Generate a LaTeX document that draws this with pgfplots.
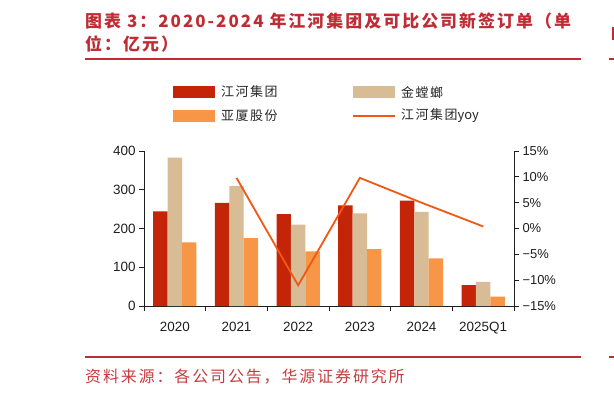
\documentclass[border=0pt]{standalone}
\usepackage{pgfplots}
\pgfplotsset{compat=1.18}
\usepackage{fontspec}
\setmainfont{Liberation Sans}
\newfontfamily\cjk{Noto Sans CJK SC}[LetterSpace=12]
\newfontfamily\cjkn{Noto Sans CJK SC}
\newfontfamily\cjkt{Noto Sans CJK SC}[LetterSpace=12]
\newfontfamily\cjks{Noto Sans CJK SC}[LetterSpace=12]
\definecolor{titlered}{RGB}{192,44,52}
\definecolor{jh}{RGB}{196,36,8}
\definecolor{jtl}{RGB}{216,188,150}
\definecolor{yx}{RGB}{247,150,70}
\definecolor{yoy}{RGB}{240,88,20}
\definecolor{srcred}{RGB}{196,60,60}
\definecolor{axgray}{RGB}{30,30,30}
\begin{document}
\begin{tikzpicture}[x=1bp,y=1bp]
\path[use as bounding box] (0,0) rectangle (614,-396);
% title
\node[anchor=base west, inner sep=0, text=titlered, font=\fontsize{17}{20}\selectfont\cjkt\bfseries] at (85,-27) {图表 3：2020-2024 年江河集团及可比公司新签订单（单};
\node[anchor=base west, inner sep=0, text=titlered, font=\fontsize{17}{20}\selectfont\cjkt\bfseries] at (85,-50) {位：亿元）};
\draw[titlered, line width=1.5bp] (85,-59) -- (581,-59);
\draw[titlered, line width=1.5bp] (609,-59) -- (614,-59);
\fill[titlered] (612,-27) rectangle (614,-40);
% legend
\fill[jh] (173,-86) rectangle (215,-98);
\node[anchor=west, inner sep=0, font=\fontsize{13}{15}\selectfont\cjk, text=black!85] at (221,-92) {江河集团};
\fill[yx] (173,-110) rectangle (215,-122);
\node[anchor=west, inner sep=0, font=\fontsize{13}{15}\selectfont\cjk, text=black!85] at (221,-116) {亚厦股份};
\fill[jtl] (353,-86) rectangle (395,-98);
\node[anchor=west, inner sep=0, font=\fontsize{13}{15}\selectfont\cjk, text=black!85] at (401,-92) {金螳螂};
\draw[yoy, line width=1.6bp] (353,-116) -- (395,-116);
\node[anchor=west, inner sep=0, font=\fontsize{13}{15}\selectfont\cjk, text=black!85] at (401,-116) {江河集团{\cjkn yoy}};
% left axis with bars
\begin{axis}[
  at={(144bp,-306bp)}, anchor=south west, scale only axis,
  width=370bp, height=155bp,
  xmin=-0.5, xmax=5.5, ymin=0, ymax=400,
  axis x line*=bottom, axis y line*=left,
  axis line style={axgray, line width=1bp},
  tick style={axgray, line width=1bp},
  tick align=outside, major tick length=5bp,
  ytick={0,100,200,300,400},
  xtick={-0.5,0.5,1.5,2.5,3.5,4.5,5.5},
  xticklabels={,,,,,,},
  extra x ticks={0,1,2,3,4,5},
  extra x tick labels={2020,2021,2022,2023,2024,2025Q1},
  extra x tick style={major tick length=0pt, xticklabel style={yshift=-13bp}},
  tick label style={font=\fontsize{13.5}{15}\selectfont, text=axgray},
  /pgf/number format/assume math mode=true,
  ybar=0pt, bar width=14.4bp,
]
\addplot[draw=none, fill=jh] coordinates {(0,244)(1,266)(2,237)(3,260)(4,272)(5,54)};
\addplot[draw=none, fill=jtl] coordinates {(0,383)(1,310)(2,210)(3,239)(4,243)(5,62)};
\addplot[draw=none, fill=yx] coordinates {(0,164)(1,175)(2,141)(3,147)(4,123)(5,24)};
\end{axis}
% right axis with yoy line
\begin{axis}[
  at={(144bp,-306bp)}, anchor=south west, scale only axis,
  width=370bp, height=155bp,
  xmin=-0.5, xmax=5.5, ymin=-15, ymax=15,
  axis x line=none, axis y line*=right,
  axis line style={axgray, line width=1bp},
  tick style={axgray, line width=1bp},
  tick align=outside, major tick length=5bp,
  ytick={-15,-10,-5,0,5,10,15},
  yticklabels={−15\%,−10\%,−5\%,0\%,5\%,10\%,15\%},
  tick label style={font=\fontsize{13}{15}\selectfont, text=axgray},
]
\addplot[yoy, line width=1.8bp, mark=none] coordinates {(1,9.8)(2,-11.0)(3,9.8)(4,5.0)(5,0.4)};
\end{axis}
% source
\draw[titlered, line width=1.5bp] (85,-357) -- (581,-357);
\draw[titlered, line width=1.5bp] (609,-357) -- (614,-357);
\node[anchor=base west, inner sep=0, text=srcred, font=\fontsize{16}{18}\selectfont\cjks] at (85,-382) {资料来源：各公司公告，华源证券研究所};
\end{tikzpicture}
\end{document}
